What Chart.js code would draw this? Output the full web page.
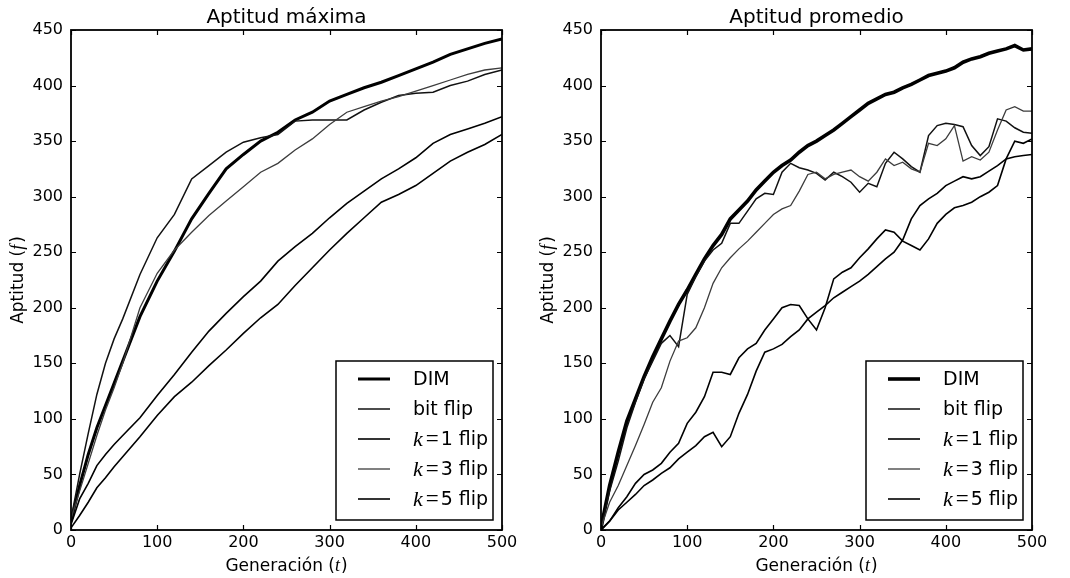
<!DOCTYPE html>
<html>
<head>
<meta charset="utf-8">
<title>Aptitud máxima / Aptitud promedio</title>
<script src="https://cdn.jsdelivr.net/npm/chart.js@4.4.1/dist/chart.umd.min.js"></script>
<style>
  html, body { margin: 0; padding: 0; background: #fff; }
  #wrap { position: relative; width: 1070px; height: 578px; overflow: hidden; }
  canvas { position: absolute; top: 0; }
</style>
</head>
<body>
<div id="wrap">
  <canvas id="leftChart" width="535" height="578" style="left:0px"></canvas>
  <canvas id="rightChart" width="535" height="578" style="left:535px"></canvas>
</div>
<script>
// generations (x) for each panel
var genMax = [0, 10, 20, 30, 40, 50, 60, 80, 100, 120, 140, 160, 180, 200, 220, 240, 260, 280, 300, 320, 340, 360, 380, 400, 420, 440, 460, 480, 500];
var genAvg = [];
for (var g = 0; g <= 500; g += 10) genAvg.push(g);

var seriesNames = ['DIM', 'bit flip', 'k=1 flip', 'k=3 flip', 'k=5 flip'];

// Aptitud máxima
var maxDim = [8, 40, 68, 92, 112, 132, 152, 192, 224, 251, 280, 303, 325, 338, 350, 358, 369, 376, 386, 392, 398, 403, 409, 415, 421, 428, 433, 438, 442];
var maxBit = [10, 50, 87, 122, 150, 172, 190, 230, 263, 284, 316, 328, 340, 349, 353, 356, 368, 369, 369, 369, 378, 385, 391, 393, 394, 400, 404, 410, 414];
var maxK1 = [2, 13, 25, 38, 47, 57, 66, 84, 103, 120, 133, 148, 162, 177, 191, 203, 220, 236, 252, 267, 281, 295, 302, 310, 321, 332, 340, 347, 356];
var maxK3 = [10, 35, 60, 85, 108, 128, 150, 200, 231, 252, 268, 283, 296, 309, 322, 330, 342, 352, 365, 376, 381, 386, 390, 395, 400, 405, 410, 414, 416];
var maxK5 = [5, 28, 42, 58, 68, 77, 85, 101, 121, 140, 160, 179, 195, 210, 224, 242, 255, 267, 281, 294, 305, 316, 325, 335, 348, 356, 361, 366, 372];

// Aptitud promedio
var avgDim = [2, 40, 70, 98, 118, 138, 156, 172, 188, 203, 216, 230, 244, 256, 266, 280, 288, 296, 306, 314, 322, 328, 333, 340, 346, 350, 355, 360, 366, 372, 378, 384, 388, 392, 394, 398, 401, 405, 409, 411, 413, 416, 421, 424, 426, 429, 431, 433, 436, 432, 433];
var avgBit = [2, 35, 62, 92, 115, 136, 152, 168, 175, 165, 212, 228, 242, 252, 258, 276, 276, 287, 298, 303, 302, 322, 330, 326, 324, 321, 315, 322, 318, 313, 304, 312, 309, 330, 340, 334, 327, 322, 355, 364, 366, 365, 363, 346, 337, 345, 370, 368, 362, 358, 357];
var avgK1 = [0, 8, 18, 25, 32, 40, 45, 51, 56, 64, 70, 76, 84, 88, 75, 84, 105, 122, 143, 160, 163, 167, 174, 180, 190, 196, 202, 209, 214, 219, 224, 230, 237, 244, 250, 261, 280, 292, 298, 303, 310, 314, 318, 316, 318, 323, 328, 334, 336, 337, 338];
var avgK3 = [2, 25, 40, 58, 76, 95, 115, 128, 152, 170, 173, 182, 200, 222, 236, 245, 253, 260, 268, 276, 284, 289, 292, 305, 320, 322, 316, 320, 322, 324, 318, 314, 322, 334, 328, 331, 325, 322, 348, 346, 352, 364, 332, 336, 333, 340, 360, 378, 381, 377, 377];
var avgK5 = [0, 8, 20, 30, 42, 50, 54, 60, 70, 78, 96, 106, 120, 142, 142, 140, 155, 163, 168, 180, 190, 200, 203, 202, 190, 180, 200, 226, 232, 236, 245, 253, 262, 270, 268, 260, 256, 252, 262, 276, 284, 290, 292, 295, 300, 304, 310, 334, 350, 348, 352];

var yTicksStep = 50;
var xTicksStep = 100;

var sansFont = "'DejaVu Sans'";
var mathFont = "'Liberation Serif', 'DejaVu Serif', serif";

function toPoints(gens, vals) {
  return gens.map(function(g, i) {
    return { x: g, y: vals[i] };
  });
}

// text made of parts, some in the italic math font
function partsWidth(ctx, parts) {
  var w = 0;
  parts.forEach(function(p) {
    ctx.font = p.font;
    w += ctx.measureText(p.text).width + (p.gap || 0);
  });
  return w;
}
function drawParts(ctx, parts, x, y) {
  parts.forEach(function(p) {
    ctx.font = p.font;
    ctx.fillText(p.text, x, y);
    x += ctx.measureText(p.text).width + (p.gap || 0);
  });
}

function labelParts(label) {
  if (label.indexOf('k=') === 0) {
    return [
      { text: 'k', font: 'italic 22px ' + mathFont, gap: 3 },
      { text: '=', font: '23px ' + mathFont, gap: 2 },
      { text: label.slice(2), font: '19px ' + sansFont }
    ];
  }
  return [{ text: label, font: '19px ' + sansFont }];
}

// frame on all sides + inward tick marks
var framePlugin = {
  id: 'frame',
  afterDatasetsDraw: function(chart) {
    var ctx = chart.ctx, a = chart.chartArea;
    var xs = chart.scales.x, ys = chart.scales.y;
    ctx.save();
    ctx.strokeStyle = '#000';
    ctx.lineWidth = 1.2;
    xs.ticks.forEach(function(t) {
      var px = Math.round(xs.getPixelForValue(t.value)) + 0.5;
      ctx.beginPath();
      ctx.moveTo(px, a.bottom); ctx.lineTo(px, a.bottom - 5);
      ctx.moveTo(px, a.top); ctx.lineTo(px, a.top + 5);
      ctx.stroke();
    });
    ys.ticks.forEach(function(t) {
      var py = Math.round(ys.getPixelForValue(t.value)) + 0.5;
      ctx.beginPath();
      ctx.moveTo(a.left, py); ctx.lineTo(a.left + 5, py);
      ctx.moveTo(a.right, py); ctx.lineTo(a.right - 5, py);
      ctx.stroke();
    });
    ctx.lineWidth = 1.8;
    ctx.strokeRect(a.left, a.top, a.right - a.left, a.bottom - a.top);
    ctx.restore();
  }
};

// legend box in the lower right corner of the plot
var legendPlugin = {
  id: 'boxLegend',
  afterDatasetsDraw: function(chart) {
    var ctx = chart.ctx, a = chart.chartArea;
    var w = 157, h = 159;
    var x0 = a.right - 9 - w, y0 = a.bottom - 10 - h;
    ctx.save();
    ctx.fillStyle = '#fff';
    ctx.fillRect(x0, y0, w, h);
    ctx.strokeStyle = '#000';
    ctx.lineWidth = 1.5;
    ctx.strokeRect(x0, y0, w, h);
    chart.data.datasets.forEach(function(ds, i) {
      var y = y0 + 18 + i * 30;
      ctx.strokeStyle = ds.borderColor;
      ctx.lineWidth = ds.borderWidth;
      ctx.beginPath();
      ctx.moveTo(x0 + 22, y);
      ctx.lineTo(x0 + 54, y);
      ctx.stroke();
      ctx.fillStyle = '#000';
      ctx.textBaseline = 'middle';
      drawParts(ctx, labelParts(ds.label), x0 + 77, y + 1);
    });
    ctx.restore();
  }
};

// panel title and axis titles (with italic f and t)
var titlesPlugin = {
  id: 'titles',
  afterDraw: function(chart) {
    var ctx = chart.ctx, a = chart.chartArea;
    var cx = (a.left + a.right) / 2, cy = (a.top + a.bottom) / 2;
    ctx.save();
    ctx.fillStyle = '#000';
    ctx.textBaseline = 'alphabetic';
    ctx.textAlign = 'left';

    var title = [{ text: chart.options.plugins.titles.text, font: '20px ' + sansFont }];
    drawParts(ctx, title, cx - partsWidth(ctx, title) / 2, 23);

    var xTitle = [
      { text: 'Generación (', font: '17px ' + sansFont },
      { text: 't', font: 'italic 18px ' + mathFont, gap: 1 },
      { text: ')', font: '17px ' + sansFont }
    ];
    drawParts(ctx, xTitle, cx - partsWidth(ctx, xTitle) / 2, 571);

    var yTitle = [
      { text: 'Aptitud (', font: '17px ' + sansFont },
      { text: 'f', font: 'italic 18px ' + mathFont, gap: 2 },
      { text: ')', font: '17px ' + sansFont }
    ];
    ctx.translate(a.left - 48, cy);
    ctx.rotate(-Math.PI / 2);
    drawParts(ctx, yTitle, -partsWidth(ctx, yTitle) / 2, 0);
    ctx.restore();
  }
};

function makeChart(canvasId, title, gens, series, axisWidth, padRight, dimWidth) {
  var colors = ['#000000', '#111111', '#000000', '#3c3c3c', '#000000'];
  var widths = [dimWidth, 1.5, 1.6, 1.3, 1.6];
  var datasets = series.map(function(vals, i) {
    return {
      label: seriesNames[i],
      data: toPoints(gens, vals),
      borderColor: colors[i],
      borderWidth: widths[i],
      pointRadius: 0,
      tension: 0,
      fill: false,
      order: 5 - i
    };
  });

  return new Chart(document.getElementById(canvasId), {
    type: 'line',
    data: { datasets: datasets },
    options: {
      responsive: false,
      animation: false,
      events: [],
      layout: { padding: { left: 0, right: padRight, top: 30, bottom: 0 } },
      plugins: {
        legend: { display: false },
        tooltip: { enabled: false },
        titles: { text: title }
      },
      scales: {
        x: {
          type: 'linear',
          min: 0,
          max: 500,
          ticks: { stepSize: xTicksStep, padding: 3, color: '#000', font: { family: 'DejaVu Sans', size: 16 }, maxRotation: 0 },
          grid: { display: false, drawTicks: false },
          border: { display: false },
          afterFit: function(scale) { scale.height = 48; }
        },
        y: {
          type: 'linear',
          min: 0,
          max: 450,
          ticks: { stepSize: yTicksStep, padding: 8, color: '#000', font: { family: 'DejaVu Sans', size: 16 } },
          grid: { display: false, drawTicks: false },
          border: { display: false },
          afterFit: function(scale) { scale.width = axisWidth; }
        }
      }
    },
    plugins: [framePlugin, legendPlugin, titlesPlugin]
  });
}

makeChart('leftChart', 'Aptitud máxima', genMax, [maxDim, maxBit, maxK1, maxK3, maxK5], 71, 33, 3);
makeChart('rightChart', 'Aptitud promedio', genAvg, [avgDim, avgBit, avgK1, avgK3, avgK5], 66, 38, 3.6);
</script>
</body>
</html>
